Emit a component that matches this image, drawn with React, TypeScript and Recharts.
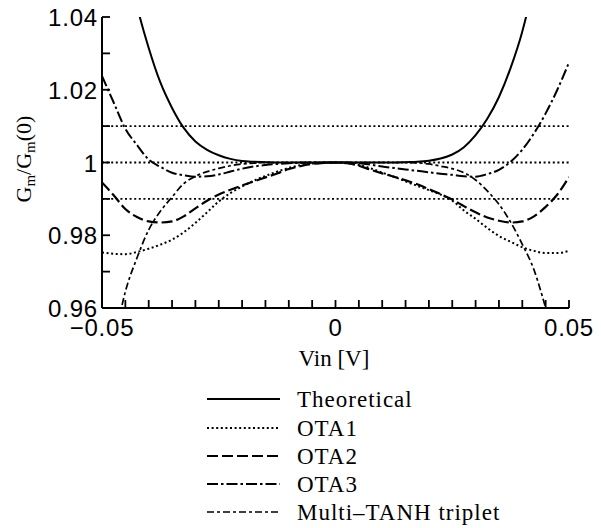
import React from 'react';
import { LineChart, Line, XAxis, YAxis, ReferenceLine, Legend } from 'recharts';

const vin = [
  -0.05, -0.0475, -0.045, -0.0425, -0.04, -0.0375, -0.035, -0.0325, -0.03, -0.0275,
  -0.025, -0.0225, -0.02, -0.0175, -0.015, -0.0125, -0.01, -0.0075, -0.005, -0.0025,
  0,
  0.0025, 0.005, 0.0075, 0.01, 0.0125, 0.015, 0.0175, 0.02, 0.0225, 0.025,
  0.0275, 0.03, 0.0325, 0.035, 0.0375, 0.04, 0.0425, 0.045, 0.0475, 0.05,
];

const theoretical = [
  1.12, 1.09, 1.058, 1.043, 1.0315, 1.022, 1.015, 1.0095, 1.0058, 1.0035,
  1.002, 1.001, 1.0004, 1.0002, 1.0001, 1.0, 1.0, 1.0, 1.0, 1.0,
  1.0,
  1.0, 1.0, 1.0, 1.0, 1.0, 1.0001, 1.0002, 1.0005, 1.0011, 1.0022,
  1.0042, 1.0075, 1.012, 1.018, 1.026, 1.036, 1.05, 1.07, 1.1, 1.13,
];

const ota1 = [
  0.9753, 0.9749, 0.9748, 0.9754, 0.9763, 0.9774, 0.9788, 0.9808, 0.9834, 0.9863,
  0.9893, 0.9916, 0.9934, 0.995, 0.9963, 0.9975, 0.9985, 0.9993, 0.9997, 0.9999,
  1.0,
  0.9998, 0.9993, 0.9984, 0.9972, 0.9961, 0.9948, 0.9936, 0.9924, 0.9912, 0.9895,
  0.9868, 0.9845, 0.982, 0.9798, 0.9782, 0.9767, 0.9757, 0.9751, 0.9751, 0.9757,
];

const ota2 = [
  0.9945, 0.991, 0.9872, 0.985, 0.9838, 0.9835, 0.9838, 0.9852, 0.9874, 0.9895,
  0.9912, 0.9925, 0.9937, 0.9948, 0.9959, 0.997, 0.9982, 0.999, 0.9996, 0.9999,
  1.0,
  0.9998, 0.9991, 0.998, 0.997, 0.9961, 0.9951, 0.994, 0.9927, 0.9913, 0.9898,
  0.988, 0.9863, 0.9849, 0.984, 0.9835, 0.9838, 0.9852, 0.9878, 0.9912, 0.996,
];

const ota3 = [
  1.0238, 1.0165, 1.0093, 1.0048, 1.0008, 0.9988, 0.9972, 0.9965, 0.9961, 0.9962,
  0.9967, 0.9975, 0.9983, 0.9989, 0.9993, 0.9996, 0.9998, 0.9999, 1.0, 1.0,
  1.0,
  1.0, 0.9998, 0.9994, 0.9989, 0.9985, 0.9981, 0.9977, 0.9973, 0.9969, 0.9966,
  0.9962, 0.9961, 0.9968, 0.998, 1.0002, 1.0035, 1.008, 1.0135, 1.02, 1.0275,
];

const multiTanh = [
  0.935, 0.95, 0.9645, 0.9738, 0.9815, 0.9866, 0.9905, 0.9942, 0.9962, 0.9975,
  0.9984, 0.9991, 0.9996, 0.9998, 1.0, 1.0, 1.0, 1.0, 1.0, 1.0,
  1.0,
  1.0, 1.0, 1.0, 1.0, 1.0, 1.0, 0.9999, 0.9996, 0.999, 0.9983,
  0.9972, 0.9952, 0.9922, 0.9885, 0.9836, 0.9775, 0.9705, 0.96, 0.948, 0.934,
];

const xTicks = [
  -0.05, -0.045, -0.04, -0.035, -0.03, -0.025, -0.02, -0.015, -0.01, -0.005,
  0, 0.005, 0.01, 0.015, 0.02, 0.025, 0.03, 0.035, 0.04, 0.045, 0.05,
];
const xLabelTicks = [-0.05, 0, 0.05];
const xTickLabels = ['\u22120.05', '0', '0.05'];

const yTicks = [0.96, 0.97, 0.98, 0.99, 1.0, 1.01, 1.02, 1.03, 1.04];
const yLabelTicks = [0.96, 0.98, 1.0, 1.02, 1.04];
const yTickLabels = ['0.96', '0.98', '1', '1.02', '1.04'];

const refLevels = [0.99, 1.0, 1.01];

const seriesKeys = ['theoretical', 'ota1', 'ota2', 'ota3', 'multiTanh'];
const seriesNames = ['Theoretical', 'OTA1', 'OTA2', 'OTA3', 'Multi\u2013TANH triplet'];
const seriesDash = ['', '2 2.6', '11 4', '11 3 2.5 3', '7 3 3 3'];
const seriesWidth = [2, 2, 2.2, 2, 1.7];

const data = vin.map((v, i) => ({
  v,
  theoretical: theoretical[i],
  ota1: ota1[i],
  ota2: ota2[i],
  ota3: ota3[i],
  multiTanh: multiTanh[i],
}));

const SANS = '"Liberation Sans", Arial, Helvetica, sans-serif';
const SERIF = '"Liberation Serif", "Times New Roman", Times, serif';
const INK = '#000';

const findLabel = (value: number, ticks: number[], labels: string[]) => {
  const idx = ticks.findIndex((t) => Math.abs(t - value) < 1e-9);
  return idx >= 0 ? labels[idx] : null;
};

const makeTick = (orient: 'bottom' | 'top' | 'left' | 'right', withLabels: boolean) => (props: any) => {
  const { x, y, payload } = props;
  const value = payload?.value;
  const L = 8;
  let x2 = x;
  let y2 = y;
  if (orient === 'bottom') y2 = y - L;
  if (orient === 'top') y2 = y + L;
  if (orient === 'left') x2 = x + L;
  if (orient === 'right') x2 = x - L;
  let label: string | null = null;
  if (withLabels) {
    label = orient === 'bottom' || orient === 'top'
      ? findLabel(value, xLabelTicks, xTickLabels)
      : findLabel(value, yLabelTicks, yTickLabels);
  }
  return (
    <g>
      <line x1={x} y1={y} x2={x2} y2={y2} stroke={INK} strokeWidth={1.8} />
      {label !== null && orient === 'bottom' && (
        <text x={x} y={y + 28} textAnchor="middle" fontFamily={SANS} fontSize={24} letterSpacing={0.8} fill={INK}>
          {label}
        </text>
      )}
      {label !== null && orient === 'left' && (
        <text x={x - 4} y={y + 9} textAnchor="end" fontFamily={SANS} fontSize={24} letterSpacing={0.8} fill={INK}>
          {label}
        </text>
      )}
    </g>
  );
};

const renderYLabel = () => (
  <text transform="translate(31,159) rotate(-90)" textAnchor="middle" fontFamily={SERIF} fontSize={22} fill={INK}>
    G<tspan fontSize={15} dy={4}>m</tspan>
    <tspan dy={-4}>/G</tspan>
    <tspan fontSize={15} dy={4}>m</tspan>
    <tspan dy={-4}>(0)</tspan>
  </text>
);

const renderXLabel = () => (
  <text x={334} y={366} textAnchor="middle" fontFamily={SERIF} fontSize={23} fill={INK}>
    Vin [V]
  </text>
);

const LegendBox = () => {
  const rows = [19, 48, 76, 104, 132];
  return (
    <svg width={601} height={148} style={{ display: 'block' }}>
      {seriesNames.map((name, i) => (
        <g key={name}>
          <line
            x1={207}
            x2={280}
            y1={rows[i]}
            y2={rows[i]}
            stroke={INK}
            strokeWidth={seriesWidth[i]}
            strokeDasharray={seriesDash[i] || undefined}
          />
          <text x={297} y={rows[i] + 8} fontFamily={SERIF} fontSize={23} letterSpacing={1} fill={INK}>
            {name}
          </text>
        </g>
      ))}
    </svg>
  );
};

export default function App() {
  return (
    <div style={{ position: 'absolute', left: 0, top: 0, width: 601, height: 528, background: '#fff' }}>
      <LineChart
        width={601}
        height={528}
        data={data}
        margin={{ top: 17, right: 32, bottom: 190, left: 0 }}
      >
        <XAxis
          dataKey="v"
          type="number"
          domain={[-0.05, 0.05]}
          ticks={xTicks}
          interval={0}
          allowDataOverflow
          height={30}
          tickSize={0}
          tickMargin={0}
          tickLine={false}
          axisLine={{ stroke: INK, strokeWidth: 2 }}
          tick={makeTick('bottom', true)}
          label={renderXLabel}
        />
        <XAxis
          xAxisId="top"
          orientation="top"
          dataKey="v"
          type="number"
          domain={[-0.05, 0.05]}
          ticks={xTicks}
          interval={0}
          allowDataOverflow
          height={0}
          tickSize={0}
          tickMargin={0}
          tickLine={false}
          axisLine={{ stroke: INK, strokeWidth: 2 }}
          tick={makeTick('top', false)}
        />
        <YAxis
          type="number"
          domain={[0.96, 1.04]}
          ticks={yTicks}
          interval={0}
          allowDataOverflow
          width={102}
          tickSize={0}
          tickMargin={0}
          tickLine={false}
          axisLine={{ stroke: INK, strokeWidth: 2 }}
          tick={makeTick('left', true)}
          label={renderYLabel}
        />
        <YAxis
          yAxisId="right"
          orientation="right"
          type="number"
          domain={[0.96, 1.04]}
          ticks={yTicks}
          interval={0}
          allowDataOverflow
          width={0}
          tickSize={0}
          tickMargin={0}
          tickLine={false}
          axisLine={{ stroke: INK, strokeWidth: 2 }}
          tick={makeTick('right', false)}
        />
        {refLevels.map((lv) => (
          <ReferenceLine key={lv} y={lv} stroke={INK} strokeWidth={1.8} strokeDasharray="2 2.6" ifOverflow="hidden" />
        ))}
        {seriesKeys.map((k, i) => (
          <Line
            key={k}
            dataKey={k}
            name={seriesNames[i]}
            type="monotone"
            stroke={INK}
            strokeWidth={seriesWidth[i]}
            strokeDasharray={seriesDash[i] || undefined}
            dot={false}
            activeDot={false}
            isAnimationActive={false}
          />
        ))}
        <Legend
          layout="horizontal"
          verticalAlign="middle"
          align="center"
          wrapperStyle={{ position: 'absolute', left: 0, top: 380, width: 601, height: 148 }}
          content={() => <LegendBox />}
        />
      </LineChart>
    </div>
  );
}
